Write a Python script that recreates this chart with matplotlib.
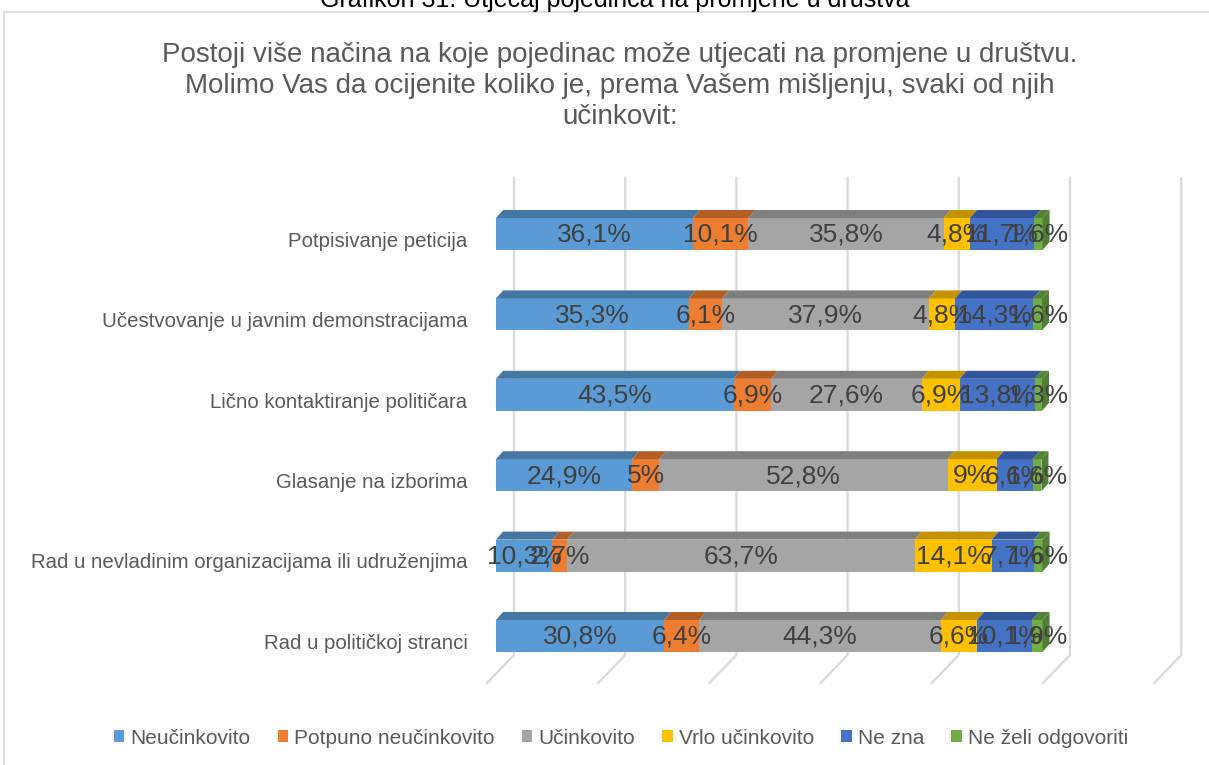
import matplotlib.pyplot as plt
from matplotlib.patches import Polygon, Patch, Rectangle

plt.rcParams['font.family'] = ['Liberation Sans', 'DejaVu Sans']

CATEGORIES = ["Potpisivanje peticija",
              "Učestvovanje u javnim demonstracijama",
              "Lično kontaktiranje političara",
              "Glasanje na izborima",
              "Rad u nevladinim organizacijama ili udruženjima",
              "Rad u političkoj stranci"]
SERIES = ["Neučinkovito", "Potpuno neučinkovito", "Učinkovito",
          "Vrlo učinkovito", "Ne zna", "Ne želi odgovoriti"]
NEUCINKOVITO = [36.1, 35.3, 43.5, 24.9, 10.3, 30.8]
POTPUNO = [10.1, 6.1, 6.9, 5.0, 2.7, 6.4]
UCINKOVITO = [35.8, 37.9, 27.6, 52.8, 63.7, 44.3]
VRLO = [4.8, 4.8, 6.9, 9.0, 14.1, 6.6]
NE_ZNA = [11.7, 14.3, 13.8, 6.6, 7.7, 10.1]
NE_ZELI = [1.6, 1.6, 1.3, 1.6, 1.6, 1.9]
GRID_TICKS = [0, 20, 40, 60, 80, 100, 120]

FRONT = ['#5B9BD5', '#ED7D31', '#A5A5A5', '#FFC000', '#4472C4', '#70AD47']
TOP = ['#4677A3', '#B35E25', '#7F7F7F', '#C29200', '#33569A', '#548236']

W, H = 1209, 765
# pixel geometry of the 3d frame
X0_PX, PX_PER_PCT = 496, 5.46
ROW0_PX, ROW_STEP = 234, 80.4
AX_L, AX_R, AX_T, AX_B = 480, 1190, 178, 685
DX = 7 / PX_PER_PCT
DY = -8 / ROW_STEP
BAR_H = 32 / ROW_STEP
BACK_OFF = (514 - X0_PX) / PX_PER_PCT
FLOOR_OFF = (487 - X0_PX) / PX_PER_PCT
BACK_SCALE = 5.56 / PX_PER_PCT
WALL_TOP = (178 - ROW0_PX) / ROW_STEP
WALL_BOT = (655 - ROW0_PX) / ROW_STEP
FLOOR_Y = (683 - ROW0_PX) / ROW_STEP


def fmt(v):
    return ('%g' % v).replace('.', ',') + '%'


fig = plt.figure(figsize=(W / 100, H / 100), dpi=100)
ax = fig.add_axes([AX_L / W, 1 - AX_B / H, (AX_R - AX_L) / W, (AX_B - AX_T) / H])
ax.set_xlim((AX_L - X0_PX) / PX_PER_PCT, (AX_R - X0_PX) / PX_PER_PCT)
ax.set_ylim((AX_B - ROW0_PX) / ROW_STEP, (AX_T - ROW0_PX) / ROW_STEP)
ax.axis('off')

# back wall and floor gridlines
for v in GRID_TICKS:
    xb = BACK_OFF + v * BACK_SCALE
    xf = FLOOR_OFF + v * BACK_SCALE
    ax.plot([xb, xb, xf], [WALL_TOP, WALL_BOT, FLOOR_Y], color='#D9D9D9',
            lw=1.6, zorder=0, clip_on=False)

data = [NEUCINKOVITO, POTPUNO, UCINKOVITO, VRLO, NE_ZNA, NE_ZELI]
rows = list(range(len(CATEGORIES)))
lefts = [0.0] * len(rows)
for s, vals in enumerate(data):
    ax.barh(rows, vals, left=lefts, height=BAR_H, color=FRONT[s], zorder=2)
    for i, v in enumerate(vals):
        l = lefts[i]
        r = l + v
        yt = i - BAR_H / 2
        ax.add_patch(Polygon([(l, yt), (r, yt), (r + DX, yt + DY), (l + DX, yt + DY)],
                             closed=True, facecolor=TOP[s], edgecolor='none', zorder=2))
        if s == len(data) - 1:
            ax.add_patch(Polygon([(r, yt), (r, yt + BAR_H), (r + DX, yt + BAR_H + DY),
                                  (r + DX, yt + DY)],
                                 closed=True, facecolor='#507E32', edgecolor='none', zorder=2))
        ax.text(l + v / 2, i + 0.01, fmt(v), ha='center', va='center',
                fontsize=19, color='#404040', zorder=5)
    lefts = [a + b for a, b in zip(lefts, vals)]

for i, name in enumerate(CATEGORIES):
    ax.annotate(name, xy=(0, i + 0.09), xycoords=('axes fraction', 'data'),
                xytext=(-9, 0), textcoords='offset points', ha='right', va='center',
                fontsize=14.7, color='#595959', annotation_clip=False)

# chart border and caption
fig.add_artist(Rectangle((4 / W, -0.1), 1.2, 1 - 12 / H + 0.1, transform=fig.transFigure,
                         fill=False, edgecolor='#D9D9D9', lw=1.2))
fig.text(615 / W, 1 - 7 / H, "Grafikon 31: Utjecaj pojedinca na promjene u društva",
         ha='center', va='baseline', fontsize=18, color='black')

fig.text(620 / W, 1 - 86 / H,
         "Postoji više načina na koje pojedinac može utjecati na promjene u društvu.\n"
         "Molimo Vas da ocijenite koliko je, prema Vašem mišljenju, svaki od njih\n"
         "učinkovit:",
         ha='center', va='center', fontsize=20, color='#595959', linespacing=1.25)

handles = [Patch(facecolor=c, edgecolor='none') for c in FRONT]
leg = fig.legend(handles, SERIES, loc='center', bbox_to_anchor=(621 / W, 1 - 738 / H),
                 ncol=6, frameon=False, fontsize=15, handlelength=0.5, handleheight=0.5,
                 handletextpad=0.3, columnspacing=1.3)
for t in leg.get_texts():
    t.set_color('#595959')

fig.savefig('out.png', dpi=100)
